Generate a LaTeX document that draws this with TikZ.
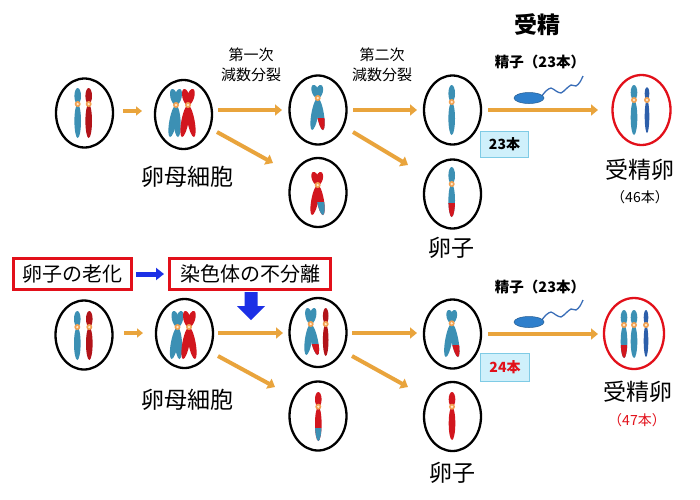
\documentclass[tikz,border=0pt]{standalone}
\usepackage{fontspec}
\newfontfamily\jp{Noto Sans CJK JP}
\usetikzlibrary{shapes.geometric,arrows.meta,calc}
\definecolor{tealc}{HTML}{3C90B4}
\definecolor{redc}{HTML}{D2161E}
\definecolor{bluec}{HTML}{2D5FAA}
\definecolor{orangec}{HTML}{E9A43C}
\definecolor{cenor}{HTML}{F2A050}
\definecolor{cenin}{HTML}{FFE8C8}
\definecolor{boxred}{HTML}{E2101A}
\definecolor{arrblue}{HTML}{1C30E6}
\definecolor{cyanfill}{HTML}{CFF0FB}
\definecolor{cyandraw}{HTML}{7FCBE5}
\definecolor{spermc}{HTML}{2E7FCC}
\definecolor{tailc}{HTML}{3A6EB8}
\newcommand\jfs[2]{\fontsize{#1}{#2}\selectfont}
% one chromosome arm: color, half width, A, B
\newcommand\carm[4]{\fill[#1] let \p1=($#4-#3$), \n1={atan2(\y1,\x1)}, \n2={veclen(\x1,\y1)/2} in [rotate around={\n1:($#3!0.5!#4$)}] ($#3!0.5!#4$) ellipse [x radius=\n2, y radius=#2 pt];}
% clipped arm (coloured tip below ycut)
\newcommand\ctip[5]{\begin{scope}\clip (0,#5) rectangle (700,499);\carm{#1}{#2}{#3}{#4}\end{scope}}
\newcommand\cen[1]{\fill[cenor] #1 circle (3); \fill[cenin] #1 circle (1.3);}
% single chromatid chromosome: color, half width, x, top, cen, bottom
\newcommand\single[6]{\carm{#1}{#2}{(#3,#4)}{(#3,#5)}\carm{#1}{#2}{(#3,#5)}{(#3,#6)}}
\begin{document}
\begin{tikzpicture}[x=1pt,y=-1pt,
  cell/.style={ellipse, draw=black, line width=2.3pt, minimum width=57pt, minimum height=69pt, inner sep=0pt},
  redcell/.style={cell, draw=boxred, minimum width=58pt, minimum height=70pt},
  oarr/.style={draw=orangec, line width=4pt, -{Triangle[length=7pt,width=11pt]}},
  osmall/.style={draw=orangec, line width=3.2pt, -{Triangle[length=6pt,width=9pt]}},
  barr/.style={draw=arrblue, line width=5pt, -{Triangle[length=8pt,width=12pt]}},
  rbox/.style={draw=boxred, line width=3pt, fill=white, inner sep=0pt, minimum height=31pt, font=\jp\jfs{20}{20}},
  cbox/.style={draw=cyandraw, line width=1.2pt, fill=cyanfill, inner sep=0pt, font=\jp\bfseries\jfs{14}{14}},
  big/.style={inner sep=0pt, font=\jp\jfs{23}{23}},
  stage/.style={inner sep=0pt, align=center, font=\jp\jfs{15}{20}},
  sperm/.style={fill=spermc, draw=spermc!70!black, line width=0.5pt},
  tail/.style={draw=tailc, line width=1.3pt}]
\fill[white] (0,0) rectangle (700,499);
\useasboundingbox (0,0) rectangle (700,499);

% ---------------- top row cells ----------------
\node[cell] (e1) at (84.5,113) {};
\node[cell] (e2) at (183.5,114.5) {};
\node[cell] (e3) at (318,110) {};
\node[cell] (e4) at (318,192.5) {};
\node[cell] (e5) at (452.5,110) {};
\node[cell] (e6) at (452.5,194) {};
\node[redcell] (r1) at (641.5,110) {};

% ---------------- bottom row cells ----------------
\node[cell] (f1) at (84,335) {};
\node[cell] (f2) at (184.5,333.5) {};
\node[cell] (f3) at (318,332.5) {};
\node[cell] (f4) at (318,416) {};
\node[cell] (f5) at (452.5,334) {};
\node[cell] (f6) at (452.5,416.5) {};
\node[redcell, minimum width=60pt, minimum height=71pt] (r2) at (634,333.5) {};

% ---------------- chromosomes: top ----------------
% e1
\single{tealc}{3.3}{77.7}{88}{104}{138}\cen{(77.7,104)}
\single{redc!85!black}{3.3}{88.7}{88}{104}{138}\cen{(88.7,104)}
% e2
\carm{tealc}{3.6}{(176,105)}{(172,89)}\carm{tealc}{3.6}{(176,105)}{(180,89)}
\carm{tealc}{3.6}{(176,105)}{(170,137)}\carm{tealc}{3.6}{(176,105)}{(178,137)}
\cen{(176,105)}
\carm{redc}{3.6}{(188,105)}{(184,89)}\carm{redc}{3.6}{(188,105)}{(193,89)}
\carm{redc}{3.6}{(188,105)}{(182,137)}\carm{redc}{3.6}{(188,105)}{(194,137)}
\cen{(188,105)}
% e3
\carm{tealc}{3.5}{(317.7,98)}{(313,85)}\carm{tealc}{3.5}{(317.7,98)}{(321,85)}
\carm{tealc}{3.5}{(317.7,98)}{(312,130)}\carm{tealc}{3.5}{(317.7,98)}{(323,130)}
\ctip{redc}{3.5}{(317.7,98)}{(323,130)}{118}
\cen{(317.7,98)}
% e4
\carm{redc}{3.5}{(317.7,185)}{(313,172)}\carm{redc}{3.5}{(317.7,185)}{(321,172)}
\carm{redc}{3.5}{(317.7,185)}{(312,215)}\carm{redc}{3.5}{(317.7,185)}{(323,215)}
\ctip{tealc}{3.5}{(317.7,185)}{(323,215)}{202}
\cen{(317.7,185)}
% e5
\single{tealc}{3.3}{451.7}{85}{102}{135}\cen{(451.7,102)}
% e6
\single{tealc}{3.3}{451.7}{167}{184}{217}
\ctip{redc}{3.3}{(451.7,184)}{(451.7,217)}{203}
\cen{(451.7,184)}
% r1
\single{tealc}{3.3}{634}{85}{100}{135}\cen{(634,100)}
\single{bluec}{2.3}{647}{87}{100}{133}\cen{(647,100)}

% ---------------- chromosomes: bottom ----------------
% f1
\single{tealc}{3.3}{77.3}{311}{327}{360}\cen{(77.3,327)}
\single{redc!85!black}{3.3}{89.3}{311}{327}{360}\cen{(89.3,327)}
% f2
\carm{tealc}{3.6}{(177.5,327)}{(173.5,311)}\carm{tealc}{3.6}{(177.5,327)}{(181.5,311)}
\carm{tealc}{3.6}{(177.5,327)}{(171.5,359)}\carm{tealc}{3.6}{(177.5,327)}{(179.5,359)}
\cen{(177.5,327)}
\carm{redc}{3.6}{(189,327)}{(185,311)}\carm{redc}{3.6}{(189,327)}{(194,311)}
\carm{redc}{3.6}{(189,327)}{(183,359)}\carm{redc}{3.6}{(189,327)}{(195,359)}
\cen{(189,327)}
% f3
\carm{tealc}{3.5}{(310.7,324)}{(307.2,308)}\carm{tealc}{3.5}{(310.7,324)}{(314.5,308)}
\carm{tealc}{3.5}{(310.7,324)}{(306.2,355)}\carm{tealc}{3.5}{(310.7,324)}{(317.7,355)}
\ctip{redc}{3.5}{(310.7,324)}{(317.7,355)}{344}
\cen{(310.7,324)}
\single{redc!85!black}{2.8}{325.7}{308}{324}{356}\cen{(325.7,324)}
% f4
\single{redc}{3.3}{318.3}{392}{406.7}{441}
\ctip{tealc}{3.3}{(318.3,406.7)}{(318.3,441)}{428}
\cen{(318.3,406.7)}
% f5
\carm{tealc}{3.5}{(451.7,323.3)}{(448.5,310)}\carm{tealc}{3.5}{(451.7,323.3)}{(455,310)}
\carm{tealc}{3.5}{(451.7,323.3)}{(445.7,357)}\carm{tealc}{3.5}{(451.7,323.3)}{(458,357)}
\ctip{redc}{3.5}{(451.7,323.3)}{(458,357)}{345}
\cen{(451.7,323.3)}
% f6
\single{redc}{3.3}{452}{392}{406.7}{440}\cen{(452,406.7)}
% r2
\single{tealc}{3.3}{624}{310}{325}{358}
\ctip{redc}{3.3}{(624,325)}{(624,358)}{345}
\cen{(624,325)}
\single{tealc}{3.3}{634}{310}{325}{358}\cen{(634,325)}
\single{bluec}{2.3}{646}{310}{325}{357}\cen{(646,325)}

% ---------------- arrows: top ----------------
\coordinate (a1s) at (123,111); \coordinate (a1e) at (142,111);
\coordinate (a2s) at (218,110); \coordinate (a2e) at (282,110);
\coordinate (a3s) at (217,132); \coordinate (a3e) at (273,163);
\coordinate (a4s) at (353,110); \coordinate (a4e) at (417,110);
\coordinate (a5s) at (353,132); \coordinate (a5e) at (408,165);
\coordinate (a6s) at (488,110); \coordinate (a6e) at (598,110);
\draw[osmall] (a1s) -- (a1e);
\draw[oarr] (a2s) -- (a2e);
\draw[oarr] (a3s) -- (a3e);
\draw[oarr] (a4s) -- (a4e);
\draw[oarr] (a5s) -- (a5e);
\draw[oarr] (a6s) -- (a6e);

% ---------------- arrows: bottom ----------------
\coordinate (b1s) at (124,333); \coordinate (b1e) at (143,333);
\coordinate (b2s) at (218,333); \coordinate (b2e) at (283,333);
\coordinate (b3s) at (218,356); \coordinate (b3e) at (275,387);
\coordinate (b4s) at (352,333); \coordinate (b4e) at (417,333);
\coordinate (b5s) at (352,356); \coordinate (b5e) at (408,387);
\coordinate (b6s) at (488,334); \coordinate (b6e) at (598,334);
\draw[osmall] (b1s) -- (b1e);
\draw[oarr] (b2s) -- (b2e);
\draw[oarr] (b3s) -- (b3e);
\draw[oarr] (b4s) -- (b4e);
\draw[oarr] (b5s) -- (b5e);
\draw[oarr] (b6s) -- (b6e);

% ---------------- sperm ----------------
\draw[tail] plot[smooth] coordinates {(541,97) (546,91) (551,88) (556,91) (561,93) (566,89) (571,85) (576,86) (580,82) (583,76)};
\path[sperm] (529,98) ellipse [x radius=15pt, y radius=5.5pt];
\draw[tail] plot[smooth] coordinates {(541,321) (546,315) (551,312) (556,315) (561,317) (566,313) (571,309) (576,310) (580,306) (583,300)};
\path[sperm] (529,322) ellipse [x radius=15pt, y radius=5.5pt];

% ---------------- texts ----------------
\node[stage] (s1) at (251,65) {第一次\\減数分裂};
\node[stage] (s2) at (382,65) {第二次\\減数分裂};
\node[inner sep=0pt, font=\jp\bfseries\jfs{23}{23}] (fert) at (537,25) {受精};
\node[inner sep=0pt, font=\jp\bfseries\jfs{14.5}{14.5}] (sp1) at (540,62) {精子（23本）};
\node[inner sep=0pt, font=\jp\bfseries\jfs{14.5}{14.5}] (sp2) at (540,287) {精子（23本）};
\node[big] (m1) at (187.5,177) {卵母細胞};
\node[big] (m2) at (187.5,400) {卵母細胞};
\node[big] (o1) at (451,248) {卵子};
\node[big] (o2) at (452,473) {卵子};
\node[big] (z1) at (640,170) {受精卵};
\node[inner sep=0pt, font=\jp\jfs{14}{14}] (n1) at (640,197) {（46本）};
\node[big] (z2) at (638,392) {受精卵};
\node[inner sep=0pt, font=\jp\jfs{14}{14}, text=boxred] (n2) at (637,420) {（47本）};
\node[cbox, minimum width=48pt, minimum height=26pt] (c1) at (504.5,144.5) {23本};
\node[cbox, minimum width=49pt, minimum height=28pt, text=boxred] (c2) at (505,367.5) {24本};

% ---------------- red boxes and blue arrows ----------------
\node[rbox, minimum width=118pt] (k1) at (72.5,274) {卵子の老化};
\node[rbox, minimum width=161pt] (k2) at (250,274) {染色体の不分離};
\draw[barr] ($(k1.east)+(3,0)$) -- ($(k2.west)+(-4,0)$);
\fill[arrblue] (244.5,292) -- (257.5,292) -- (257.5,306) -- (265,306) -- (251,320) -- (237,306) -- (244.5,306) -- cycle;
\end{tikzpicture}
\end{document}
